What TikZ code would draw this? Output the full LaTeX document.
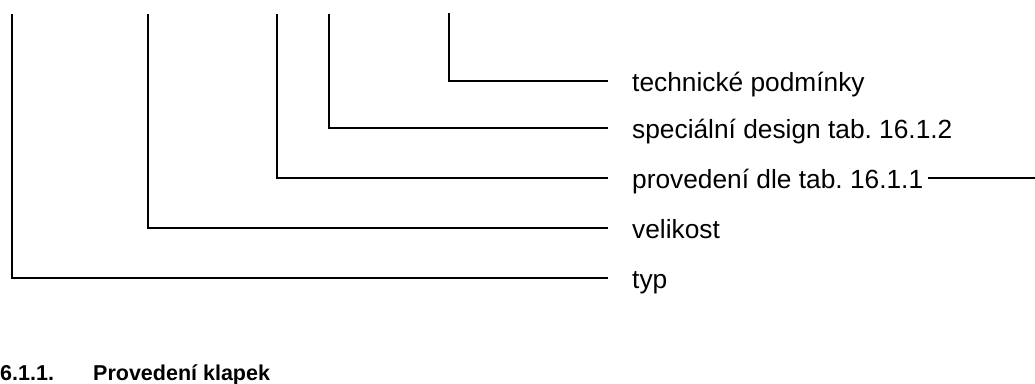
\documentclass[tikz,border=0pt]{standalone}
\usepackage{fontspec}
\setmainfont{Liberation Sans}
\frenchspacing
\begin{document}
\begin{tikzpicture}[x=1pt,y=-1pt,
  conn/.style={line width=2.2pt,line cap=rect},
  lab/.style={anchor=base west,inner sep=0pt,font=\fontsize{26.3}{30}\selectfont},
  head/.style={anchor=base west,inner sep=0pt,font=\fontsize{21.5}{25}\selectfont\bfseries}]
\useasboundingbox (0,0) rectangle (1035,383);
% tops of verticals
\coordinate (t1) at (12,15);
\coordinate (t2) at (148,15);
\coordinate (t3) at (277,15);
\coordinate (t4) at (329,15);
\coordinate (t5) at (449,14);
% line ends
\coordinate (e1) at (607,278);
\coordinate (e2) at (607,228);
\coordinate (e3) at (607,178);
\coordinate (e4) at (607,128);
\coordinate (e5) at (607,81);
% labels
\node[lab] (l5) at (632,91) {technické podmínky};
\node[lab] (l4) at (632,138) {speciální design tab. 16.1.2};
\node[lab] (l3) at (632,188) {provedení dle tab. 16.1.1};
\node[lab] (l2) at (632,238) {velikost};
\node[lab] (l1) at (632,288) {typ};
\coordinate (r1) at (928,178);
\coordinate (r2) at (1035,178);
\draw[conn] (t1) |- (e1);
\draw[conn] (t2) |- (e2);
\draw[conn] (t3) |- (e3);
\draw[conn] (t4) |- (e4);
\draw[conn] (t5) |- (e5);
\draw[line width=2.2pt] (r1) -- (r2);
% heading
\node[head] (h1) at (0,380) {6.1.1.};
\node[head] (h2) at (93,380) {Provedení klapek};
\end{tikzpicture}
\end{document}
